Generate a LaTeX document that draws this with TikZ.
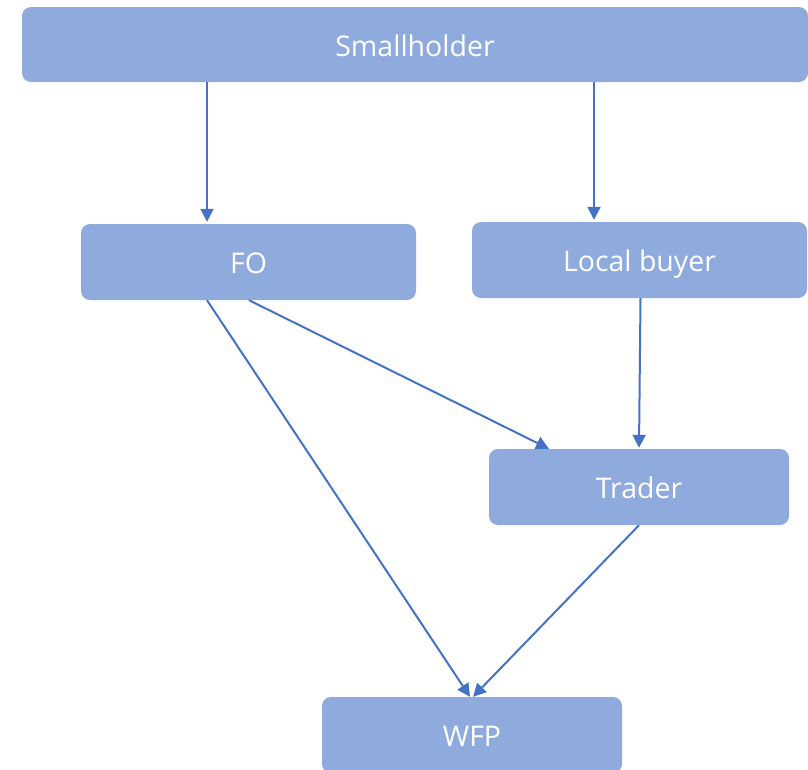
\documentclass[tikz,border=0pt]{standalone}
\usepackage{fontspec}
\setmainfont{Open Sans}
\usetikzlibrary{arrows.meta}
\definecolor{boxfill}{HTML}{8FAADC}
\definecolor{arrcol}{HTML}{4472C4}
\tikzset{
  box/.style={fill=boxfill, rounded corners=9pt, text=white, font=\fontsize{28.5}{32}\selectfont, inner sep=0pt, text height=26pt, text depth=3pt},
  arr/.style={draw=arrcol, line width=2pt, -{Triangle[width=13pt,length=13pt]}}
}
\begin{document}
\begin{tikzpicture}[x=1pt,y=-1pt]
\useasboundingbox (0,0) rectangle (808,769);
\node[box, minimum width=786pt, minimum height=75pt] (sh) at (415,44.5) {Smallholder};
\node[box, minimum width=335pt, minimum height=76pt] (fo) at (248.5,262) {FO};
\node[box, minimum width=335pt, minimum height=76pt] (lb) at (639.5,260) {Local buyer};
\node[box, minimum width=300pt, minimum height=76pt] (tr) at (639,487) {Trader};
\node[box, minimum width=300pt, minimum height=76pt] (wfp) at (472,735) {WFP};
\draw[arr] ([xshift=-208pt]sh.south) -- ([xshift=-41.5pt,yshift=2pt]fo.north);
\draw[arr] ([xshift=179pt]sh.south) -- ([xshift=-45.5pt,yshift=2pt]lb.north);
\draw[arr] ([xshift=-41.5pt]fo.south) -- ([xshift=-2pt]wfp.north);
\draw[arr] ([xshift=0.5pt]fo.south) -- ([xshift=-90pt]tr.north);
\draw[arr] ([xshift=1pt]lb.south) -- ([yshift=1pt]tr.north);
\draw[arr] (tr.south) -- ([xshift=1pt]wfp.north);
\end{tikzpicture}
\end{document}
